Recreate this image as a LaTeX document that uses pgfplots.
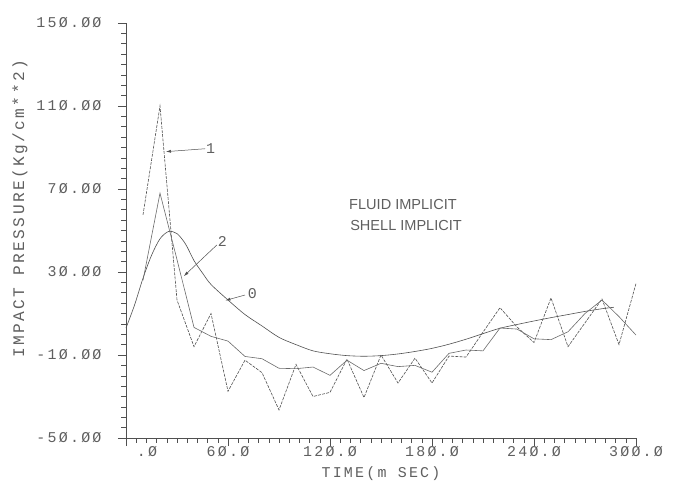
\documentclass[border=0pt]{standalone}
\usepackage{fontspec}
\newfontfamily\plotfont[LetterSpace=15]{Liberation Mono}
\newfontfamily\notefont{Liberation Sans}
\usepackage{pgfplots}
\pgfplotsset{compat=1.18}
\usetikzlibrary{arrows.meta}
\definecolor{ink}{RGB}{80,80,80}
\definecolor{txt}{RGB}{95,95,95}

\pgfplotstableread{
x y
0 3
5 14
10 27
15 38
20 46
25 49.5
30 48.5
35 43.5
40 35.5
45 29.5
50 24
60 16.5
70 9.5
80 4
90 -1.5
100 -5
110 -8
120 -9.4
130 -10.3
140 -10.6
150 -10.3
160 -9.5
170 -8.3
180 -6.8
190 -4.8
200 -2.4
210 0.3
220 2.9
230 4.7
240 6.4
250 8
260 9.5
270 11
280 12.3
287 13
}\curvezero

\pgfplotstableread{
x y
10 57.5
20 110
30 16.5
40 -6
50 10
60 -27.5
70 -12.5
80 -18.5
90 -36.5
100 -14.5
110 -30
120 -28
130 -12
140 -30.5
150 -10
160 -23.5
170 -11.5
180 -23.5
190 -10.5
200 -11
210 1
220 12.8
230 3.5
240 -4
250 17.5
260 -6
270 5.5
280 17
290 -5
300 24.5
}\curveone

\pgfplotstableread{
x y
10 26
20 68
30 36
40 3.3
50 -1
60 -3.3
70 -10.7
80 -11.8
90 -16.4
100 -16.6
110 -15.8
120 -19.8
130 -12.5
140 -17.5
150 -14
160 -15.6
170 -15
180 -18.3
190 -9.2
200 -7.6
210 -8
220 3
230 2.5
240 -2.2
250 -2.6
260 1.2
270 10
280 16.5
290 8.5
300 -0.4
}\curvetwo

\begin{document}
\begin{tikzpicture}
\begin{axis}[
  scale only axis, width=510bp, height=415bp,
  xmin=0, xmax=300, ymin=-50, ymax=150,
  axis x line=bottom, axis y line=left,
  axis line style={-, draw=ink, line width=0.6bp},
  xtick={0,60,120,180,240,300},
  xticklabels={\hspace*{42bp}.Ø,6Ø.Ø,12Ø.Ø,18Ø.Ø,24Ø.Ø,3ØØ.Ø},
  ytick={-50,-10,30,70,110,150},
  yticklabels={-5Ø.ØØ,-1Ø.ØØ,3Ø.ØØ,7Ø.ØØ,11Ø.ØØ,15Ø.ØØ},
  minor x tick num=9, minor y tick num=7,
  tick align=outside, major tick length=8bp, minor tick length=4.5bp,
  every tick/.style={draw=ink, line width=0.5bp},
  tick label style={font=\plotfont\fontsize{15}{15}\selectfont, text=txt},
  yticklabel style={anchor=east, xshift=-13bp},
  xticklabel style={anchor=north, yshift=3bp},
  xlabel={TIME(m SEC)},
  xlabel style={font=\plotfont\fontsize{15}{15}\selectfont, text=txt, at={(axis description cs:0.5,0)}, anchor=center, yshift=-36bp},
  ylabel={IMPACT PRESSURE(Kg/cm**2)},
  ylabel style={font=\plotfont\fontsize{16.2}{16}\selectfont, text=txt, at={(axis description cs:-0.208,0.552)}, anchor=center, rotate=0},
  clip=false,
]
\addplot[draw=ink, line width=0.6bp, smooth] table[x=x,y=y] {\curvezero};
\addplot[draw=ink, line width=0.6bp, dash pattern=on 3bp off 1.2bp] table[x=x,y=y] {\curveone};
\addplot[draw=ink!85, line width=0.6bp] table[x=x,y=y] {\curvetwo};

\draw[ink, line width=0.5bp, -{Latex[length=5bp,width=3bp]}] (axis cs:46.5,89.4) -- (axis cs:23.5,88);
\node[font=\plotfont\fontsize{15}{15}\selectfont, text=txt, anchor=west, inner sep=0pt] at (axis cs:47,89.3) {1};
\draw[ink, line width=0.5bp, -{Latex[length=5bp,width=3bp]}] (axis cs:53.4,43) -- (axis cs:34,28);
\node[font=\plotfont\fontsize{15}{15}\selectfont, text=txt, anchor=west, inner sep=0pt] at (axis cs:54,44.5) {2};
\draw[ink, line width=0.5bp, -{Latex[length=5bp,width=3bp]}] (axis cs:70,18.9) -- (axis cs:58.5,16.3);
\node[font=\plotfont\fontsize{15}{15}\selectfont, text=txt, anchor=west, inner sep=0pt] at (axis cs:71.5,19.7) {0};

\node[font=\notefont\fontsize{14.6}{21}\selectfont, text=txt, anchor=west, inner sep=0pt] at (axis cs:131.2,62.3) {FLUID IMPLICIT};
\node[font=\notefont\fontsize{14.6}{21}\selectfont, text=txt, anchor=west, inner sep=0pt] at (axis cs:131.8,52.2) {SHELL IMPLICIT};
\end{axis}
\pgfresetboundingbox
\useasboundingbox (-126bp,-44bp) rectangle (551bp,438bp);
\end{tikzpicture}
\end{document}
